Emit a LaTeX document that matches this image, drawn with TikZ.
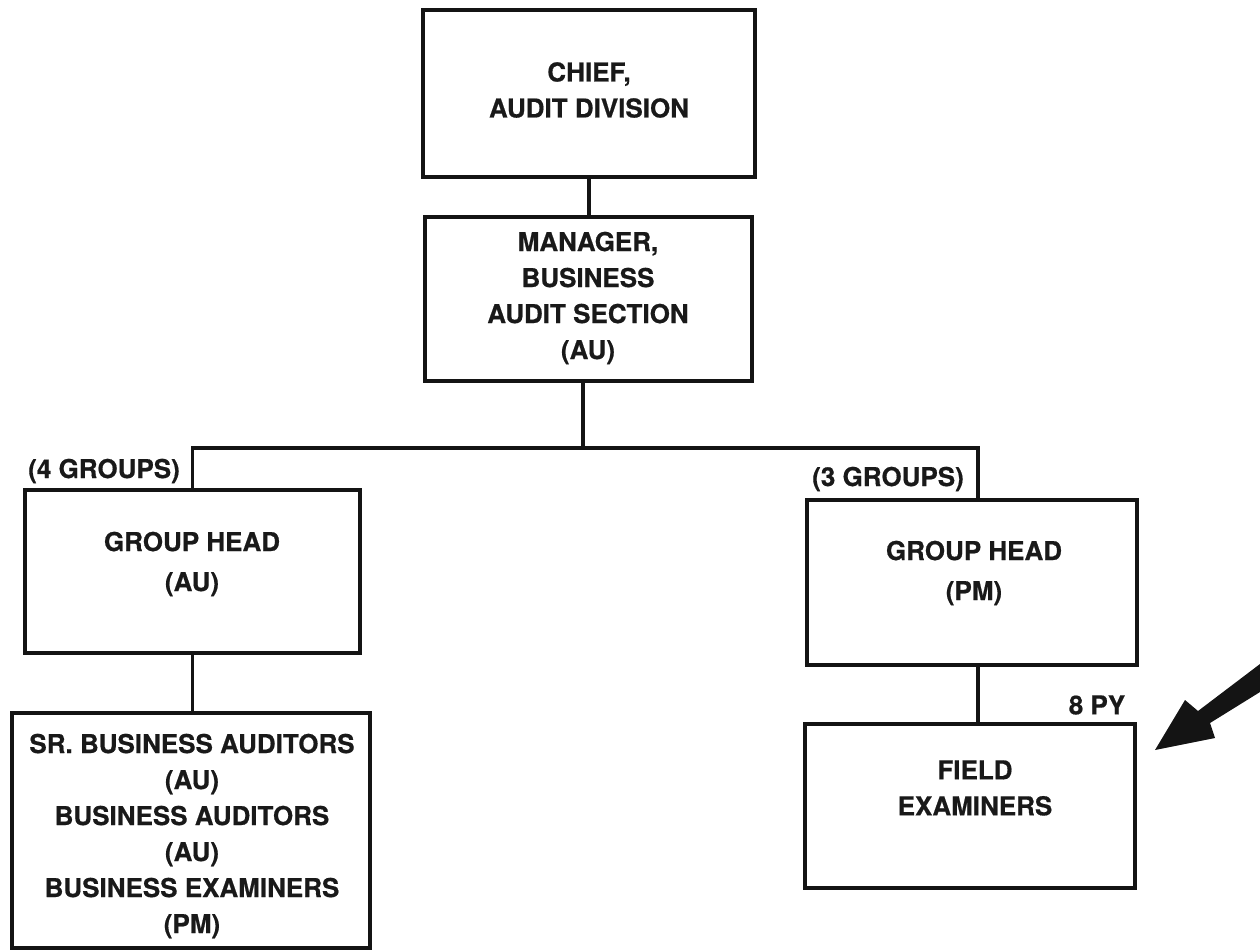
\documentclass[tikz,border=0pt]{standalone}
\usepackage{fontspec}
\setmainfont{TeX Gyre Heros}[FakeBold=0.6]
\begin{document}
\begin{tikzpicture}[x=1pt,y=-1pt,
  box/.style={draw=black!92, line width=3.4pt, inner sep=0pt},
  txt/.style={align=center, inner sep=0pt, text=black!90,
    font=\fontsize{26}{36}\selectfont\bfseries},
  txtwide/.style={txt, font=\fontsize{26}{40}\selectfont\bfseries},
  link/.style={draw=black!92, line width=3.4pt}]
\useasboundingbox (0,0) rectangle (1260,951);

% boxes
\node[box, minimum width=332pt, minimum height=167pt] (chief) at (589,93.5) {};
\node[box, minimum width=327pt, minimum height=164pt] (mgr) at (588.5,299) {};
\node[box, minimum width=335pt, minimum height=163pt] (lgh) at (192.5,571.5) {};
\node[box, minimum width=330pt, minimum height=165pt] (rgh) at (972,582.5) {};
\node[box, minimum width=358pt, minimum height=235pt] (staff) at (191,830.5) {};
\node[box, minimum width=330pt, minimum height=164pt] (field) at (970,806) {};

% box texts
\node[txt] (chieft) at (589,90) {CHIEF,\\AUDIT DIVISION};
\node[txt] (mgrt) at (588,298) {MANAGER,\\BUSINESS\\AUDIT SECTION\\(AU)};
\node[txtwide] (lght) at (192,564) {GROUP HEAD\\(AU)};
\node[txtwide] (rght) at (974,573) {GROUP HEAD\\(PM)};
\node[txt] (stafft) at (192,836) {SR. BUSINESS AUDITORS\\(AU)\\BUSINESS AUDITORS\\(AU)\\BUSINESS EXAMINERS\\(PM)};
\node[txt] (fieldt) at (975,788) {FIELD\\EXAMINERS};

% side labels
\node[txt] (lgrp) at (104,471) {(4 GROUPS)};
\node[txt] (rgrp) at (888,479) {(3 GROUPS)};
\node[txt] (py) at (1097,705) {8 PY};

% connectors
\coordinate (bus) at (583,448);
\draw[link] (chief.south) -- (chief.south |- mgr.north);
\draw[link] (mgr.south -| bus) -- (bus);
\draw[link] (bus) -| (lgh.north);
\draw[link] (bus) -| ([xshift=6pt]rgh.north);
\draw[link] (lgh.south) -- (lgh.south |- staff.north);
\draw[link] ([xshift=6pt]rgh.south) -- ([xshift=6pt]rgh.south |- field.north);

% pointer arrow at the right edge
\fill[black!92] (1155,750) -- (1185,700) -- (1198,711) -- (1260,664)
  -- (1260,692) -- (1210,723) -- (1215,738) -- cycle;
\end{tikzpicture}
\end{document}
